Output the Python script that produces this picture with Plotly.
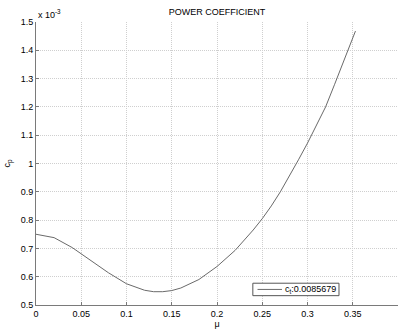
import plotly.graph_objects as go

mu = [0.0, 0.02, 0.04, 0.06, 0.08, 0.10, 0.12, 0.13, 0.14, 0.15, 0.16, 0.18,
      0.20, 0.22, 0.24, 0.25, 0.26, 0.27, 0.28, 0.29, 0.30, 0.31, 0.32, 0.33,
      0.34, 0.353]
cp_e3 = [0.750, 0.738, 0.703, 0.658, 0.614, 0.575, 0.552, 0.547, 0.547, 0.551,
         0.560, 0.590, 0.636, 0.693, 0.765, 0.805, 0.850, 0.900, 0.955, 1.013,
         1.072, 1.135, 1.200, 1.280, 1.360, 1.468]
cp = [v * 1e-3 for v in cp_e3]
legend_name = "c<sub>t</sub>:0.0085679"
x_ticks = [0, 0.05, 0.1, 0.15, 0.2, 0.25, 0.3, 0.35, 0.4]
x_tick_text = ["0", "0.05", "0.1", "0.15", "0.2", "0.25", "0.3", "0.35", "0.4"]
y_ticks = [0.5e-3, 0.6e-3, 0.7e-3, 0.8e-3, 0.9e-3, 1.0e-3, 1.1e-3, 1.2e-3, 1.3e-3, 1.4e-3, 1.5e-3]
y_tick_text = ["0.5", "0.6", "0.7", "0.8", "0.9", "1", "1.1", "1.2", "1.3", "1.4", "1.5"]

FONT = "Liberation Sans, Arial, sans-serif"
LINE_COLOR = "#6a6a6a"

fig = go.Figure()
fig.add_trace(go.Scatter(x=mu, y=cp, mode="lines", name=legend_name,
                         line=dict(color=LINE_COLOR, width=1), showlegend=False))

axis_common = dict(showline=True, linecolor="#7a7a7a", linewidth=1,
                   showgrid=True, gridcolor="#cfcfcf", griddash="1px,1px", gridwidth=1,
                   zeroline=False, ticks="inside", ticklen=3, tickcolor="#7a7a7a",
                   tickfont=dict(family=FONT, size=9, color="#000"))

fig.update_xaxes(range=[0, 0.4], tickvals=x_ticks, ticktext=x_tick_text,
                 title=dict(text="μ", font=dict(family=FONT, size=9, color="#000"), standoff=2),
                 **axis_common)
fig.update_yaxes(range=[0.5e-3, 1.5e-3], tickvals=y_ticks, ticktext=y_tick_text,
                 title=dict(text="c<sub>p</sub>", font=dict(family=FONT, size=9, color="#000"), standoff=8),
                 **axis_common)

# legend box (drawn manually to match the compact MATLAB legend)
lx0, lx1, ly0, ly1 = 0.599, 0.837, 0.033, 0.077
ly = (ly0 + ly1) / 2
shapes = [
    dict(type="rect", xref="paper", yref="paper", x0=lx0, x1=lx1, y0=ly0, y1=ly1,
         line=dict(color="#555", width=1), fillcolor="white", layer="above"),
    dict(type="line", xref="paper", yref="paper", x0=0.612, x1=0.6795, y0=ly, y1=ly,
         line=dict(color=LINE_COLOR, width=1), layer="above"),
]

fig.update_layout(
    width=402, height=331,
    margin=dict(l=36, r=4, t=22, b=24),
    paper_bgcolor="white", plot_bgcolor="white",
    title=dict(text="POWER COEFFICIENT", x=0.54, xanchor="center", y=1 - 12 / 331, yanchor="middle",
               font=dict(family=FONT, size=9, color="#000")),
    showlegend=False,
    shapes=shapes,
    annotations=[
        dict(text="x 10<sup>-3</sup>", xref="paper", yref="paper", x=0, y=1,
             xanchor="left", yanchor="bottom", showarrow=False,
             font=dict(family=FONT, size=9, color="#000")),
        dict(text=legend_name, xref="paper", yref="paper", x=0.682, y=ly,
             xanchor="left", yanchor="middle", showarrow=False,
             font=dict(family=FONT, size=9, color="#000")),
    ],
)

fig.write_html("out.html")
